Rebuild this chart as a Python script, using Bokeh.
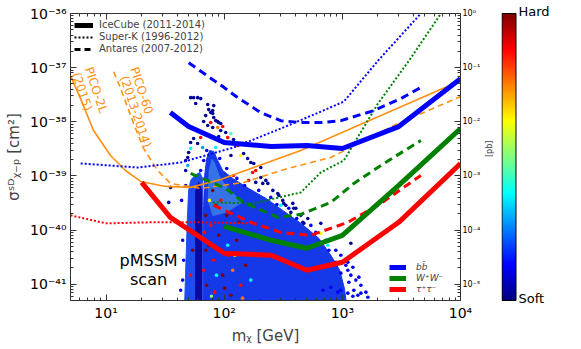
import math
import numpy as np
from bokeh.plotting import figure
from bokeh.models import (Range1d, LogScale, LogAxis, FixedTicker, CustomJSTickFormatter,
                          Legend, LegendItem, Label, ColumnDataSource, LinearColorMapper)
from bokeh.layouts import row
from bokeh.embed import file_html
from bokeh.resources import INLINE
from bokeh.core.properties import value

FONT = "DejaVu Sans"

# ---------------- limits (cm^2 vs GeV) ----------------
icecube_bb_m = [35, 50, 100, 250, 500, 1000, 3000, 10000]
icecube_bb_s = [1.48e-38, 8.16e-39, 4.14e-39, 3.50e-39, 3.65e-39, 3.21e-39, 8.16e-39, 6.27e-38]
icecube_ww_m = [100, 250, 500, 1000, 3000, 10000]
icecube_ww_s = [1.17e-40, 6.47e-41, 4.61e-41, 8.00e-41, 6.67e-40, 7.50e-39]
icecube_tt_m = [20, 35, 100, 250, 500, 1000, 3000, 10000]
icecube_tt_s = [7.59e-40, 1.72e-40, 3.73e-41, 3.43e-41, 1.81e-41, 2.54e-41, 1.39e-40, 1.70e-39]

superk_bb_m = [6.1, 18.5, 43, 120, 301, 657, 1030, 2000, 4620]
superk_bb_s = [1.70e-39, 1.43e-39, 1.77e-39, 3.35e-39, 7.50e-39, 1.54e-38, 2.36e-38, 1.34e-37, 1.0e-36]
superk_ww_m = [80, 178, 445, 657, 1030, 2000, 3660, 6830]
superk_ww_s = [3.24e-40, 3.11e-40, 4.96e-40, 1.16e-39, 1.93e-39, 2.17e-38, 1.34e-37, 1.0e-36]
superk_tt_m = [5, 10, 23.8, 63, 178]
superk_tt_s = [1.87e-40, 1.33e-40, 1.39e-40, 1.39e-40, 1.33e-40]

antares_bb_m = [50, 100, 130, 204, 301, 445, 657, 971, 1849, 3130, 4910]
antares_bb_s = [1.23e-37, 4.28e-38, 2.79e-38, 1.48e-38, 1.05e-38, 9.68e-39, 9.68e-39, 1.05e-38, 1.61e-38, 2.68e-38, 4.65e-38]
antares_ww_m = [52, 103, 146, 284, 445, 799, 1251, 2250, 4620]
antares_ww_s = [1.11e-39, 5.88e-40, 3.24e-40, 1.72e-40, 1.95e-40, 3.24e-40, 7.27e-40, 1.70e-39, 4.51e-39]
antares_tt_m = [81.5, 168, 301, 541, 1113, 2119, 4620]
antares_tt_s = [2.86e-40, 1.39e-40, 9.08e-41, 8.00e-41, 1.39e-40, 3.11e-40, 1.02e-39]

pico2l_m = [5, 6.08, 7.83, 10.9, 14.6, 19.6, 31.9, 52, 93.4, 445, 10000]
pico2l_s = [7.1e-38, 2.68e-38, 6.89e-39, 2.38e-39, 1.26e-39, 7.91e-40, 6.40e-40, 6.14e-40, 8.61e-40, 2.95e-39, 5.75e-38]
pico60_m = [11.6, 13.3, 17.1, 20.8, 27.3, 35.2, 63.2, 146, 345, 799, 2950, 10000]
pico60_s = [8.41e-38, 4.09e-38, 9.27e-39, 3.21e-39, 1.26e-39, 7.27e-40, 5.88e-40, 7.59e-40, 1.37e-39, 2.19e-39, 9.27e-39, 2.92e-38]

# ---------------- pMSSM scan: dense regions (outlines) ----------------
dense_main_m = [67.0, 65.7, 67.0, 68.3, 71.1, 75.4, 81.5, 88.1, 97.1, 118, 161, 225, 313, 445, 632, 799, 950, 1040, 1090]
dense_main_s = [4e-42, 4.24e-41, 2.86e-40, 1.02e-39, 2.10e-39, 2.95e-39, 2.83e-39, 1.93e-39, 1.26e-39, 8.99e-40,
                5.88e-40, 3.85e-40, 2.31e-40, 1.33e-40, 7.05e-41, 3.43e-41, 1.81e-41, 8.4e-42, 4e-42]
dense_band_m = [46.2, 47.2, 48.1, 49.1, 50.0, 52.0, 56.2, 62.0, 65.7, 65.7]
dense_band_s = [4e-42, 1.81e-41, 6.47e-41, 2.31e-40, 5.40e-40, 8.26e-40, 1.02e-39, 1.16e-39, 8.99e-40, 4e-42]
dense_funnel_m = [57.4, 57.4, 60.8, 64.4, 64.4]
dense_funnel_s = [4e-42, 5.40e-40, 7.59e-40, 5.40e-40, 4e-42]
dense_core_m = [73.9, 78.4, 83.1, 93.4, 118, 143, 105, 79.9, 72.5]
dense_core_s = [1.26e-39, 2.10e-39, 1.77e-39, 8.99e-40, 4.96e-40, 3.24e-40, 2.12e-40, 1.79e-40, 3.53e-40]

# ---------------- pMSSM scan: individual models (mass, sigma, hardness 0=soft..1=hard) ----------------
scan_mass = [52.0, 55.1, 59.6, 63.2, 57.4, 72.5, 73.9, 76.9, 79.9, 81.5, 84.7, 88.1, 89.8, 93.4, 76.9, 67.0,
             72.5, 79.9, 88.1, 97.1, 93.4, 103, 114, 89.8, 107, 120, 97.1, 130, 55.1, 52.0, 59.6, 63.2,
             65.7, 84.7, 79.9, 69.7, 81.5,
             146, 158, 138, 114, 168, 185, 178, 204, 161, 185, 234, 258, 290, 120, 204, 174, 212, 225,
             284, 313, 332, 381, 301, 366, 404, 445, 510, 472, 319, 388, 463, 657, 657, 754, 971, 1180,
             1113, 1228, 1380, 1435, 1251, 1113, 916, 1645, 1353, 799, 971, 1113, 1582, 1301,
             35.2, 33.9, 47.2, 49.1, 52.0, 47.2, 50.0, 49.1,
             196, 248, 352, 541, 725, 881, 1071, 1180, 1135, 1228, 1435, 881, 769, 596, 411, 279, 149,
             128, 105, 91.6, 71.1, 67.0, 63.2, 43.6, 44.5, 44.5, 45.4, 42.8, 47.2, 971, 684,
             69.7, 76.9, 84.7, 73.9, 81.5, 89.8, 97.1, 109, 71, 83, 101, 118, 127, 67.0, 93.4, 105,
             79.9, 138, 152, 114, 69.7, 86, 123, 168, 75, 91.6, 68, 133, 107, 78, 143, 54, 52.0]
scan_sigma = [2.79e-38, 2.79e-38, 2.79e-38, 2.68e-38, 2.17e-38, 2.08e-38, 1.68e-38, 1.48e-38, 1.42e-38,
              1.20e-38, 1.05e-38, 1.01e-38, 9.68e-39, 9.27e-39, 9.68e-39, 1.01e-38, 8.51e-39, 7.82e-39,
              7.82e-39, 8.16e-39, 6.89e-39, 6.33e-39, 6.07e-39, 5.34e-39, 5.12e-39, 4.70e-39, 4.14e-39,
              3.65e-39, 4.91e-39, 4.14e-39, 3.97e-39, 5.12e-39, 3.35e-39, 3.35e-39, 1.61e-38, 1.30e-38,
              1.99e-38,
              2.60e-39, 2.10e-39, 2.38e-39, 2.38e-39, 1.77e-39, 1.26e-39, 1.70e-39, 9.38e-40, 8.26e-40,
              7.59e-40, 7.27e-40, 5.40e-40, 4.37e-40, 1.02e-39, 1.43e-39, 1.16e-39, 7.27e-40, 8.26e-40,
              4.75e-40, 3.53e-40, 2.86e-40, 3.11e-40, 2.86e-40, 2.12e-40, 2.52e-40, 1.87e-40, 1.64e-40,
              1.33e-40, 3.11e-40, 2.52e-40, 1.39e-40, 1.33e-40, 8.71e-41, 5.24e-41, 3.43e-41, 5.70e-41,
              2.54e-41, 2.06e-41, 1.35e-41, 9.59e-42, 7.75e-42, 6.83e-42, 7.13e-42, 5.76e-42, 6.27e-42,
              8.81e-42, 1.60e-41, 1.81e-41, 7.13e-42, 1.19e-41,
              6.14e-40, 3.24e-40, 1.26e-39, 2.19e-39, 3.21e-39, 1.93e-39, 2.71e-39, 1.56e-39,
              5.40e-40, 4.01e-40, 2.52e-40, 1.22e-40, 6.47e-41, 4.24e-41, 2.24e-41, 1.47e-41, 1.09e-41,
              6.0e-42, 6.83e-42, 2.54e-41, 4.24e-41, 9.08e-41, 1.64e-40, 2.96e-40, 6.67e-40, 8.99e-40,
              1.37e-39, 2.10e-39, 2.95e-39, 1.93e-39, 1.26e-39, 3.53e-40, 6.47e-41, 1.19e-41, 2.77e-41,
              7.75e-42, 6.67e-40, 7.75e-42, 7.75e-42,
              1.87e-40, 1.22e-40, 2.86e-40, 5.24e-41, 2.77e-41, 8.00e-41, 1.47e-41, 3.43e-41, 9.59e-42,
              7.13e-42, 8.4e-42, 1.81e-41, 6.47e-41, 1.81e-41, 3.53e-40, 1.87e-40, 5.40e-40, 9.59e-42,
              2.24e-41, 6.27e-42, 4.24e-41, 1.47e-41, 3.43e-41, 1.19e-41, 3.53e-40, 4.24e-41, 9.08e-41,
              1.39e-40, 5.24e-41, 6.0e-42, 5.52e-42, 4.24e-41, 1.47e-41]
scan_hardness = [0.03] * 14 + [0.87, 0.03, 0.03, 0.03, 0.75, 0.87, 0.03, 0.03, 0.45, 0.03, 0.87, 0.03,
                               0.37, 0.87, 0.03, 0.03, 0.03, 0.87, 0.28, 0.37, 0.03, 0.03, 0.03] + \
                [0.03, 0.03, 0.63, 0.03, 0.03, 0.87, 0.03, 0.03, 0.87, 0.03, 0.03, 0.03, 0.03, 0.87, 0.03,
                 0.87, 0.03, 0.03, 0.03, 0.03, 0.03, 0.03, 0.37, 0.03, 0.03, 0.03, 0.03, 0.03, 0.03, 0.03,
                 0.03, 0.03, 0.63, 0.37, 0.12, 0.03, 0.12, 0.12, 0.12, 0.12, 0.12, 0.12, 0.12, 0.12, 0.12,
                 0.12, 0.12, 0.12, 0.12, 0.12] + \
                [0.03, 0.03, 0.03, 0.03, 0.37, 0.03, 0.03, 0.30] + [0.12] * 31 + \
                [1.0, 0.87, 1.0, 1.0, 0.87, 1.0, 1.0, 0.87, 1.0, 0.87, 1.0, 0.75, 1.0, 0.87, 0.87, 1.0,
                 1.0, 0.87, 1.0, 1.0, 1.0, 0.37, 0.63, 0.37, 0.63, 1.0, 0.87, 1.0, 0.37, 0.5, 0.75, 1.0, 0.87]

major_cm = [1e-41, 1e-40, 1e-39, 1e-38, 1e-37, 1e-36]
major_pb = [1e-5, 1e-4, 1e-3, 1e-2, 1e-1, 1e0]
major_gev = [1e1, 1e2, 1e3, 1e4]


def jet(t):
    r = min(max(1.5 - abs(4 * t - 3), 0), 1)
    g = min(max(1.5 - abs(4 * t - 2), 0), 1)
    b = min(max(1.5 - abs(4 * t - 1), 0), 1)
    return "#%02x%02x%02x" % (int(r * 255), int(g * 255), int(b * 255))


JET = [jet(i / 255) for i in range(256)]

fmt_code = r"""
const e = Math.round(Math.log10(tick));
const sup = {"-": "\u207b", "0": "\u2070", "1": "\u00b9", "2": "\u00b2", "3": "\u00b3",
             "4": "\u2074", "5": "\u2075", "6": "\u2076", "7": "\u2077", "8": "\u2078", "9": "\u2079"};
let s = "";
for (const c of String(e)) { s += sup[c]; }
return "10" + s;
"""


def minors(lo, hi):
    return [k * 10.0 ** n for n in range(lo, hi) for k in range(2, 10)]


p = figure(width=501, height=349, x_axis_type="log", y_axis_type="log",
           x_range=Range1d(5, 1e4), y_range=Range1d(5e-42, 1e-36),
           output_backend="svg", toolbar_location=None,
           min_border_left=70, min_border_right=41, min_border_top=13, min_border_bottom=49)
p.xgrid.visible = False
p.ygrid.visible = False
p.outline_line_color = "#333333"
p.background_fill_color = "white"

p.extra_y_ranges = {"pb": Range1d(5e-6, 1)}
p.extra_y_scales = {"pb": LogScale()}


def style_axis(ax, size):
    ax.major_tick_in = 6
    ax.major_tick_out = 0
    ax.minor_tick_in = 3
    ax.minor_tick_out = 0
    ax.axis_line_color = "#333333"
    ax.major_tick_line_color = "#333333"
    ax.minor_tick_line_color = "#333333"
    ax.major_label_text_font = FONT
    ax.major_label_text_font_size = size
    ax.major_label_text_color = "black"
    ax.axis_label_text_font = FONT
    ax.axis_label_text_font_style = "normal"


xa = p.xaxis[0]
xa.ticker = FixedTicker(ticks=major_gev, minor_ticks=minors(0, 4))
xa.formatter = CustomJSTickFormatter(code=fmt_code)
style_axis(xa, "14px")
xa.major_label_standoff = 4
xa.axis_label = "m\u1d6a [GeV]"
xa.axis_label_text_font_size = "15px"
xa.axis_label_standoff = 3

ya = p.yaxis[0]
ya.ticker = FixedTicker(ticks=major_cm, minor_ticks=minors(-42, -36))
ya.formatter = CustomJSTickFormatter(code=fmt_code)
style_axis(ya, "14px")
ya.major_label_standoff = 4
ya.axis_label = "\u03c3\u02e2\u1d30\u1d6a\u208b\u209a [cm\u00b2]"
ya.axis_label_text_font_size = "15px"
ya.axis_label_standoff = 4

top = LogAxis(ticker=FixedTicker(ticks=major_gev, minor_ticks=minors(0, 4)))
style_axis(top, "2px")
top.major_label_text_color = None
top.major_label_standoff = 0
p.add_layout(top, "above")

ra = LogAxis(y_range_name="pb", ticker=FixedTicker(ticks=major_pb, minor_ticks=minors(-6, 0)),
             formatter=CustomJSTickFormatter(code=fmt_code), axis_label="[pb]")
style_axis(ra, "8px")
ra.major_label_standoff = 2
ra.axis_label_text_font_size = "8px"
ra.axis_label_standoff = 6
try:
    ra.axis_label_orientation = math.pi / 2
except Exception:
    pass
p.add_layout(ra, "right")

# ---- pMSSM scan ----
p.patch(dense_main_m, dense_main_s, fill_color="#1538e8", line_color="#1538e8", line_width=1)
p.patch(dense_band_m, dense_band_s, fill_color="#1f4cf0", line_color="#1f4cf0", line_width=1)
p.patch(dense_funnel_m, dense_funnel_s, fill_color="#0a0aa0", line_color="#0a0aa0", line_width=1)
p.patch(dense_core_m, dense_core_s, fill_color="#3a7ae6", line_color=None, fill_alpha=0.9)

mapper = LinearColorMapper(palette=JET, low=0, high=1)
src = ColumnDataSource(dict(m=scan_mass, s=scan_sigma, h=scan_hardness))
p.scatter("m", "s", source=src, size=3.6, line_color=None,
          fill_color={"field": "h", "transform": mapper})

# ---- limit curves ----
ORANGE = "#ff9010"
p.line(pico2l_m, pico2l_s, line_color=ORANGE, line_width=1.6)
p.line(pico60_m, pico60_s, line_color=ORANGE, line_width=1.6, line_dash="6 4")

p.line(superk_bb_m, superk_bb_s, line_color="blue", line_width=2, line_dash="2 2")
p.line(superk_ww_m, superk_ww_s, line_color="green", line_width=2, line_dash="2 2")
p.line(superk_tt_m, superk_tt_s, line_color="red", line_width=2, line_dash="2 2")

p.line(antares_bb_m, antares_bb_s, line_color="blue", line_width=3, line_dash="8 5")
p.line(antares_ww_m, antares_ww_s, line_color="green", line_width=3, line_dash="8 5")
p.line(antares_tt_m, antares_tt_s, line_color="red", line_width=3, line_dash="8 5")

r_bb = p.line(icecube_bb_m, icecube_bb_s, line_color="blue", line_width=5)
r_ww = p.line(icecube_ww_m, icecube_ww_s, line_color="green", line_width=5)
r_tt = p.line(icecube_tt_m, icecube_tt_s, line_color="red", line_width=5)

# ---- legends ----
d_ic = p.line([1], [1], line_color="black", line_width=5)
d_sk = p.line([1], [1], line_color="black", line_width=2, line_dash="2 2")
d_an = p.line([1], [1], line_color="black", line_width=3, line_dash="6 4")

leg1 = Legend(items=[LegendItem(label="IceCube (2011-2014)", renderers=[d_ic]),
                     LegendItem(label="Super-K (1996-2012)", renderers=[d_sk]),
                     LegendItem(label="Antares (2007-2012)", renderers=[d_an])],
              location=(4, 246), margin=0, padding=4, spacing=1,
              glyph_width=19, glyph_height=10, label_height=10, label_standoff=6,
              label_text_font=FONT, label_text_font_size="10px",
              background_fill_alpha=0, border_line_color=None)
p.add_layout(leg1)

leg2 = Legend(items=[LegendItem(label="bb\u0304", renderers=[r_bb]),
                     LegendItem(label="W\u207aW\u207b", renderers=[r_ww]),
                     LegendItem(label="\u03c4\u207a\u03c4\u207b", renderers=[r_tt])],
              location=(319, 6), margin=0, padding=4, spacing=1,
              glyph_width=17, glyph_height=10, label_height=10, label_standoff=10,
              label_text_font=FONT, label_text_font_size="9px", label_text_font_style="italic",
              background_fill_alpha=0, border_line_color=None)
p.add_layout(leg2)

# ---- annotations ----
for txt, mx, sy in [("pMSSM", 22.9, 2.77e-41), ("scan", 22.9, 1.24e-41)]:
    p.add_layout(Label(x=mx, y=sy, text=txt, text_align="center", text_baseline="middle",
                       text_font=FONT, text_font_size="16px", text_color="black"))

for txt, mx, sy in [("PICO-2L", 8.23, 3.85e-38), ("(2015)", 6.27, 3.61e-38),
                    ("PICO-60", 20.0, 3.76e-38), ("(2013-2014)", 17.8, 1.54e-38)]:
    p.add_layout(Label(x=mx, y=sy, text=txt, text_align="center", text_baseline="middle",
                       angle=-1.25, text_font=FONT, text_font_size="12px", text_color=ORANGE))

# ---- colour bar (hardness: 0 = soft, 1 = hard) ----
unaligned = True
cb = figure(width=80, height=349, x_range=Range1d(0, 80), y_range=Range1d(-13.0 / 287, 1 + 49.0 / 287),
            output_backend="svg", toolbar_location=None,
            x_axis_location=None, y_axis_location=None,
            min_border_left=0, min_border_right=0, min_border_top=0, min_border_bottom=0)
try:
    cb.frame_align = False
    p.frame_align = False
except Exception:
    unaligned = False
if unaligned:
    # frame covers the whole colour-bar figure; hardness 0..1 spans the main frame's height
    cb.y_range = Range1d(-49.0 / 287, 1 + 13.0 / 287)
else:
    cb.y_range = Range1d(0, 1)
    cb.min_border_top = 13
    cb.min_border_bottom = 49
cb.xgrid.visible = False
cb.ygrid.visible = False
cb.outline_line_color = None
levels = np.linspace(0, 1, 129)
tops = np.minimum(levels[1:] + 0.004, 1.0)
bots = levels[:-1]
cb_colors = [JET[int(round(v * 255))] for v in (levels[:-1] + levels[1:]) / 2]
cb.quad(left=0.5, right=14.5, top=tops, bottom=bots, fill_color=cb_colors, line_color=None)
cb.quad(left=[0.5], right=[14.5], top=[1.0], bottom=[0.0], fill_color=None,
        line_color="black", line_width=1)
if unaligned:
    cb.text(x=[17, 17], y=[1.0, 0.0], text=["Hard", "Soft"], text_baseline="middle",
            y_offset=[-2, -2], text_font_size="13px", text_font=value(FONT), text_color="black")
else:
    cb.add_layout(Label(x=17, y=1.0, text="Hard", text_baseline="top",
                        text_font=FONT, text_font_size="13px", text_color="black"))
    cb.add_layout(Label(x=17, y=0.0, text="Soft", text_baseline="bottom", y_offset=-4,
                        text_font=FONT, text_font_size="13px", text_color="black"))

layout = row(p, cb, spacing=0)
open("out.html", "w").write(file_html(layout, INLINE))
